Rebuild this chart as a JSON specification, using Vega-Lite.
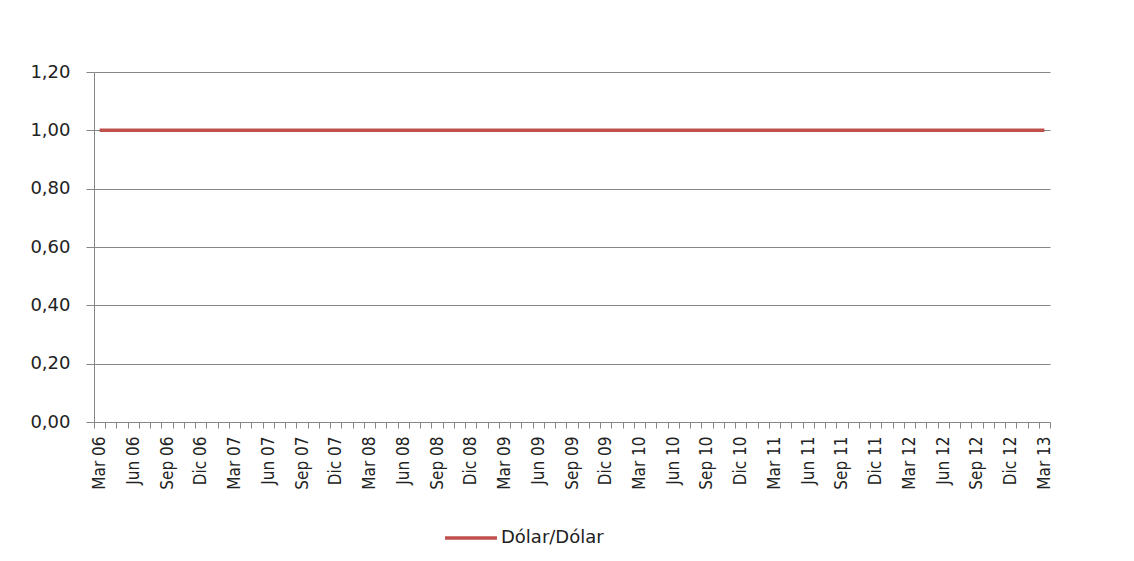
{
  "$schema": "https://vega.github.io/schema/vega-lite/v6.json",
  "width": 956,
  "height": 350,
  "autosize": {"type": "none"},
  "padding": {"left": 94, "top": 72, "right": 84, "bottom": 139},
  "background": "white",
  "config": {"view": {"stroke": null}},
  "data": {"values": [
    {"mes": "Mar 06", "serie": "Dólar/Dólar", "valor": 1},
    {"mes": "Abr 06", "serie": "Dólar/Dólar", "valor": 1},
    {"mes": "May 06", "serie": "Dólar/Dólar", "valor": 1},
    {"mes": "Jun 06", "serie": "Dólar/Dólar", "valor": 1},
    {"mes": "Jul 06", "serie": "Dólar/Dólar", "valor": 1},
    {"mes": "Ago 06", "serie": "Dólar/Dólar", "valor": 1},
    {"mes": "Sep 06", "serie": "Dólar/Dólar", "valor": 1},
    {"mes": "Oct 06", "serie": "Dólar/Dólar", "valor": 1},
    {"mes": "Nov 06", "serie": "Dólar/Dólar", "valor": 1},
    {"mes": "Dic 06", "serie": "Dólar/Dólar", "valor": 1},
    {"mes": "Ene 07", "serie": "Dólar/Dólar", "valor": 1},
    {"mes": "Feb 07", "serie": "Dólar/Dólar", "valor": 1},
    {"mes": "Mar 07", "serie": "Dólar/Dólar", "valor": 1},
    {"mes": "Abr 07", "serie": "Dólar/Dólar", "valor": 1},
    {"mes": "May 07", "serie": "Dólar/Dólar", "valor": 1},
    {"mes": "Jun 07", "serie": "Dólar/Dólar", "valor": 1},
    {"mes": "Jul 07", "serie": "Dólar/Dólar", "valor": 1},
    {"mes": "Ago 07", "serie": "Dólar/Dólar", "valor": 1},
    {"mes": "Sep 07", "serie": "Dólar/Dólar", "valor": 1},
    {"mes": "Oct 07", "serie": "Dólar/Dólar", "valor": 1},
    {"mes": "Nov 07", "serie": "Dólar/Dólar", "valor": 1},
    {"mes": "Dic 07", "serie": "Dólar/Dólar", "valor": 1},
    {"mes": "Ene 08", "serie": "Dólar/Dólar", "valor": 1},
    {"mes": "Feb 08", "serie": "Dólar/Dólar", "valor": 1},
    {"mes": "Mar 08", "serie": "Dólar/Dólar", "valor": 1},
    {"mes": "Abr 08", "serie": "Dólar/Dólar", "valor": 1},
    {"mes": "May 08", "serie": "Dólar/Dólar", "valor": 1},
    {"mes": "Jun 08", "serie": "Dólar/Dólar", "valor": 1},
    {"mes": "Jul 08", "serie": "Dólar/Dólar", "valor": 1},
    {"mes": "Ago 08", "serie": "Dólar/Dólar", "valor": 1},
    {"mes": "Sep 08", "serie": "Dólar/Dólar", "valor": 1},
    {"mes": "Oct 08", "serie": "Dólar/Dólar", "valor": 1},
    {"mes": "Nov 08", "serie": "Dólar/Dólar", "valor": 1},
    {"mes": "Dic 08", "serie": "Dólar/Dólar", "valor": 1},
    {"mes": "Ene 09", "serie": "Dólar/Dólar", "valor": 1},
    {"mes": "Feb 09", "serie": "Dólar/Dólar", "valor": 1},
    {"mes": "Mar 09", "serie": "Dólar/Dólar", "valor": 1},
    {"mes": "Abr 09", "serie": "Dólar/Dólar", "valor": 1},
    {"mes": "May 09", "serie": "Dólar/Dólar", "valor": 1},
    {"mes": "Jun 09", "serie": "Dólar/Dólar", "valor": 1},
    {"mes": "Jul 09", "serie": "Dólar/Dólar", "valor": 1},
    {"mes": "Ago 09", "serie": "Dólar/Dólar", "valor": 1},
    {"mes": "Sep 09", "serie": "Dólar/Dólar", "valor": 1},
    {"mes": "Oct 09", "serie": "Dólar/Dólar", "valor": 1},
    {"mes": "Nov 09", "serie": "Dólar/Dólar", "valor": 1},
    {"mes": "Dic 09", "serie": "Dólar/Dólar", "valor": 1},
    {"mes": "Ene 10", "serie": "Dólar/Dólar", "valor": 1},
    {"mes": "Feb 10", "serie": "Dólar/Dólar", "valor": 1},
    {"mes": "Mar 10", "serie": "Dólar/Dólar", "valor": 1},
    {"mes": "Abr 10", "serie": "Dólar/Dólar", "valor": 1},
    {"mes": "May 10", "serie": "Dólar/Dólar", "valor": 1},
    {"mes": "Jun 10", "serie": "Dólar/Dólar", "valor": 1},
    {"mes": "Jul 10", "serie": "Dólar/Dólar", "valor": 1},
    {"mes": "Ago 10", "serie": "Dólar/Dólar", "valor": 1},
    {"mes": "Sep 10", "serie": "Dólar/Dólar", "valor": 1},
    {"mes": "Oct 10", "serie": "Dólar/Dólar", "valor": 1},
    {"mes": "Nov 10", "serie": "Dólar/Dólar", "valor": 1},
    {"mes": "Dic 10", "serie": "Dólar/Dólar", "valor": 1},
    {"mes": "Ene 11", "serie": "Dólar/Dólar", "valor": 1},
    {"mes": "Feb 11", "serie": "Dólar/Dólar", "valor": 1},
    {"mes": "Mar 11", "serie": "Dólar/Dólar", "valor": 1},
    {"mes": "Abr 11", "serie": "Dólar/Dólar", "valor": 1},
    {"mes": "May 11", "serie": "Dólar/Dólar", "valor": 1},
    {"mes": "Jun 11", "serie": "Dólar/Dólar", "valor": 1},
    {"mes": "Jul 11", "serie": "Dólar/Dólar", "valor": 1},
    {"mes": "Ago 11", "serie": "Dólar/Dólar", "valor": 1},
    {"mes": "Sep 11", "serie": "Dólar/Dólar", "valor": 1},
    {"mes": "Oct 11", "serie": "Dólar/Dólar", "valor": 1},
    {"mes": "Nov 11", "serie": "Dólar/Dólar", "valor": 1},
    {"mes": "Dic 11", "serie": "Dólar/Dólar", "valor": 1},
    {"mes": "Ene 12", "serie": "Dólar/Dólar", "valor": 1},
    {"mes": "Feb 12", "serie": "Dólar/Dólar", "valor": 1},
    {"mes": "Mar 12", "serie": "Dólar/Dólar", "valor": 1},
    {"mes": "Abr 12", "serie": "Dólar/Dólar", "valor": 1},
    {"mes": "May 12", "serie": "Dólar/Dólar", "valor": 1},
    {"mes": "Jun 12", "serie": "Dólar/Dólar", "valor": 1},
    {"mes": "Jul 12", "serie": "Dólar/Dólar", "valor": 1},
    {"mes": "Ago 12", "serie": "Dólar/Dólar", "valor": 1},
    {"mes": "Sep 12", "serie": "Dólar/Dólar", "valor": 1},
    {"mes": "Oct 12", "serie": "Dólar/Dólar", "valor": 1},
    {"mes": "Nov 12", "serie": "Dólar/Dólar", "valor": 1},
    {"mes": "Dic 12", "serie": "Dólar/Dólar", "valor": 1},
    {"mes": "Ene 13", "serie": "Dólar/Dólar", "valor": 1},
    {"mes": "Feb 13", "serie": "Dólar/Dólar", "valor": 1},
    {"mes": "Mar 13", "serie": "Dólar/Dólar", "valor": 1}
  ]},
  "mark": {"type": "line", "strokeWidth": 3.5},
  "encoding": {
    "x": {
      "field": "mes",
      "type": "ordinal",
      "sort": null,
      "scale": {"type": "band", "paddingInner": 0, "paddingOuter": 0},
      "axis": {
        "title": null,
        "tickBand": "extent",
        "labelAngle": -90,
        "labelAlign": "right",
        "labelBaseline": "middle",
        "labelFont": "DejaVu Sans Condensed",
        "labelFontSize": 17,
        "labelColor": "#222222",
        "labelPadding": 8,
        "labelOverlap": false,
        "labelExpr": "test(/^(Mar|Jun|Sep|Dic)/, '' + datum.label) ? datum.label : ''",
        "tickSize": 6,
        "tickColor": "#868686",
        "domainColor": "#868686",
        "grid": false
      }
    },
    "y": {
      "field": "valor",
      "type": "quantitative",
      "scale": {"domain": [0, 1.2], "nice": false, "zero": true},
      "axis": {
        "title": null,
        "values": [0, 0.2, 0.4, 0.6, 0.8, 1.0, 1.2],
        "labelExpr": "replace(format(datum.value, '.2f'), '.', ',')",
        "labelFont": "DejaVu Sans",
        "labelFontSize": 18,
        "labelColor": "#222222",
        "labelPadding": 16,
        "tickSize": 8,
        "tickColor": "#868686",
        "domainColor": "#868686",
        "grid": true,
        "gridColor": "#868686",
        "gridWidth": 1
      }
    },
    "color": {
      "field": "serie",
      "type": "nominal",
      "scale": {"range": ["#C0504D"]},
      "legend": {
        "title": null,
        "orient": "none",
        "legendX": 349,
        "legendY": 438,
        "padding": 0,
        "symbolType": "stroke",
        "symbolSize": 2700,
        "symbolStrokeWidth": 3.5,
        "labelFont": "DejaVu Sans",
        "labelFontSize": 18,
        "labelColor": "#222222",
        "labelOffset": 2
      }
    }
  }
}
